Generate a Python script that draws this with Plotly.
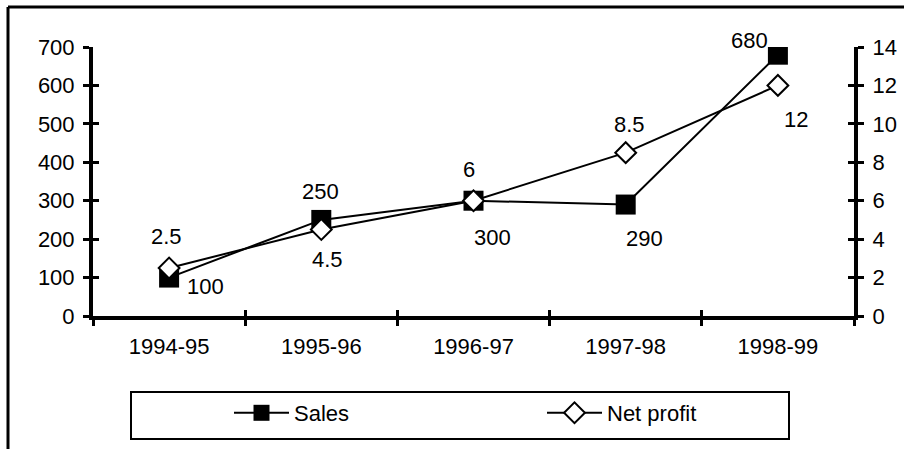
import plotly.graph_objects as go

categories = ["1994-95", "1995-96", "1996-97", "1997-98", "1998-99"]
sales = [100, 250, 300, 290, 680]
net_profit = [2.5, 4.5, 6, 8.5, 12]
sales_labels = ["100", "250", "300", "290", "680"]
profit_labels = ["2.5", "4.5", "6", "8.5", "12"]
left_ticks = [0, 100, 200, 300, 400, 500, 600, 700]
right_ticks = [0, 2, 4, 6, 8, 10, 12, 14]

# label offsets (px) — style only
sales_shift = [(36, -9), (-1, 28), (19, -37), (19, -34), (-28, 14)]
profit_shift = [(-3, 31), (6, -30), (-5, 31), (4, 28), (18, -34)]

FONT = "Liberation Sans, Arial, sans-serif"
FS = 22

W, H = 904, 449
L, T, PW, PH = 93, 47, 761, 269


def px_x(p):
    return (p - L) / PW


def px_y(p):
    return (T + PH - p) / PH


fig = go.Figure()
fig.add_trace(go.Scatter(
    x=categories, y=sales, name="Sales", mode="lines+markers",
    line=dict(color="black", width=2),
    marker=dict(symbol="square", size=20, color="black", line=dict(width=0)),
    legend="legend", yaxis="y", xaxis="x", hoverinfo="skip"))
fig.add_trace(go.Scatter(
    x=categories, y=net_profit, name="Net profit", mode="lines+markers",
    line=dict(color="black", width=2),
    marker=dict(symbol="diamond", size=16, color="white", line=dict(width=2, color="black")),
    legend="legend2", yaxis="y2", xaxis="x", hoverinfo="skip"))
# invisible helpers so that inner tick overlay axes get drawn
fig.add_trace(go.Scatter(x=categories, y=sales, xaxis="x2", yaxis="y3", mode="markers",
                         marker=dict(opacity=0), showlegend=False, hoverinfo="skip"))
fig.add_trace(go.Scatter(x=categories, y=net_profit, xaxis="x2", yaxis="y4", mode="markers",
                         marker=dict(opacity=0), showlegend=False, hoverinfo="skip"))

ann = []
for i, c in enumerate(categories):
    dx, dy = sales_shift[i]
    ann.append(dict(x=c, y=sales[i], xref="x", yref="y", text=sales_labels[i],
                    showarrow=False, xshift=dx, yshift=dy,
                    font=dict(family=FONT, size=FS, color="black")))
    dx, dy = profit_shift[i]
    ann.append(dict(x=c, y=net_profit[i], xref="x", yref="y2", text=profit_labels[i],
                    showarrow=False, xshift=dx, yshift=dy,
                    font=dict(family=FONT, size=FS, color="black")))

axis_common = dict(showgrid=False, zeroline=False, linecolor="black", linewidth=4,
                   tickcolor="black", tickwidth=3, ticklen=6, automargin=False,
                   tickfont=dict(family=FONT, size=FS, color="black"))
inner_common = dict(showline=False, ticks="inside", showticklabels=False, showgrid=False,
                    zeroline=False, tickcolor="black", tickwidth=3, ticklen=6,
                    automargin=False)

fig.update_layout(
    width=W, height=H,
    margin=dict(l=L, r=W - L - PW, t=T, b=H - T - PH, autoexpand=False),
    paper_bgcolor="white", plot_bgcolor="white",
    font=dict(family=FONT, size=FS, color="black"),
    xaxis=dict(type="category", range=[-0.5, 4.5], showline=True, ticks="outside",
               tickson="boundaries", ticklabelstandoff=8, **axis_common),
    xaxis2=dict(type="category", range=[-0.5, 4.5], overlaying="x",
                tickson="boundaries", **inner_common),
    yaxis=dict(range=[0, 700], tickvals=left_ticks, showline=True, ticks="outside",
               ticklabelstandoff=4, **axis_common),
    yaxis2=dict(range=[0, 14], tickvals=right_ticks, overlaying="y", side="right",
                showline=True, ticks="outside", ticklabelstandoff=4, **axis_common),
    yaxis3=dict(range=[0, 700], tickvals=left_ticks, overlaying="y", side="left",
                **inner_common),
    yaxis4=dict(range=[0, 14], tickvals=right_ticks, overlaying="y", side="right",
                **inner_common),
    legend=dict(x=px_x(229), xanchor="left", y=px_y(413), yanchor="middle",
                bgcolor="rgba(0,0,0,0)", borderwidth=0, itemwidth=55,
                font=dict(family=FONT, size=FS, color="black")),
    legend2=dict(x=px_x(542), xanchor="left", y=px_y(413), yanchor="middle",
                 bgcolor="rgba(0,0,0,0)", borderwidth=0, itemwidth=55,
                 font=dict(family=FONT, size=FS, color="black")),
    annotations=ann,
    shapes=[
        dict(type="rect", xref="paper", yref="paper",
             x0=px_x(131), x1=px_x(789), y0=px_y(439), y1=px_y(392),
             line=dict(color="black", width=2), fillcolor="rgba(0,0,0,0)", layer="below"),
        dict(type="line", xref="paper", yref="paper",
             x0=px_x(8), x1=px_x(910), y0=px_y(7), y1=px_y(7),
             line=dict(color="black", width=3)),
        dict(type="line", xref="paper", yref="paper",
             x0=px_x(8), x1=px_x(8), y0=px_y(7), y1=px_y(460),
             line=dict(color="black", width=3)),
    ],
)

fig.write_html(
    "out.html",
    config={"displayModeBar": False},
    post_script="document.body.style.margin='0';"
                "document.documentElement.style.overflow='hidden';",
)
